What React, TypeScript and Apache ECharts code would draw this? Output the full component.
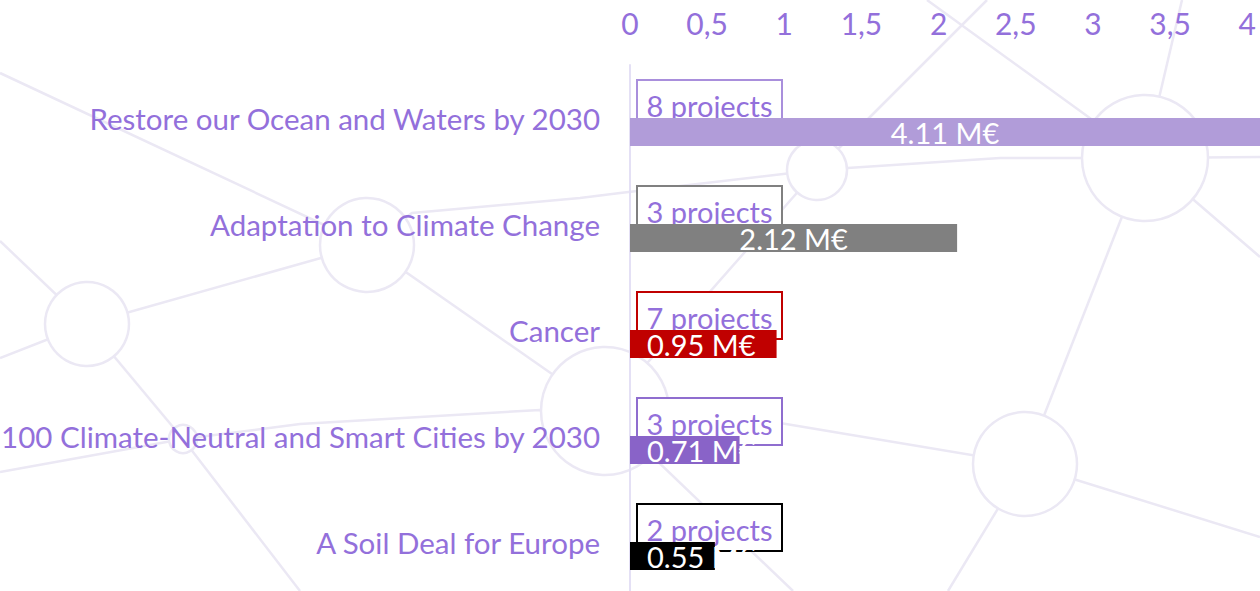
import React, { useEffect, useRef } from "react";
import * as echarts from "echarts";

// ---- Data ----
const categories = [
  "Restore our Ocean and Waters by 2030",
  "Adaptation to Climate Change",
  "Cancer",
  "100 Climate-Neutral and Smart Cities by 2030",
  "A Soil Deal for Europe",
];
const fundingMEur = [4.11, 2.12, 0.95, 0.71, 0.55];
const projectCounts = [8, 3, 7, 3, 2];
const barColors = ["#b19cd9", "#808080", "#c00000", "#8963c8", "#000000"];
const boxColors = ["#a98fdc", "#808080", "#c00000", "#8f6dcf", "#000000"];

// ---- Decorative background network ----
const BG_STROKE = "#ebe8f4";
const bgCircles: [number, number, number][] = [
  [87, 324, 42],
  [367, 245, 47],
  [183, 439, 14],
  [605, 411, 64],
  [817, 170, 30],
  [1145, 158, 63],
  [1025, 464, 52],
];
const bgLines: number[][][] = [
  [[0, 73], [367, 245]],
  [[0, 241], [87, 324]],
  [[87, 324], [367, 245]],
  [[367, 245], [412, 213], [580, 198], [620, 193], [817, 170]],
  [[367, 245], [605, 411]],
  [[0, 358], [87, 324]],
  [[87, 324], [183, 439]],
  [[183, 439], [0, 472]],
  [[183, 439], [300, 424], [540, 410], [605, 411]],
  [[183, 439], [300, 591]],
  [[817, 170], [987, 0]],
  [[927, 0], [1145, 158]],
  [[817, 170], [1000, 158], [1145, 158]],
  [[1145, 158], [1182, 0]],
  [[1145, 158], [1260, 157]],
  [[1145, 158], [1260, 257]],
  [[1145, 158], [1025, 464]],
  [[1025, 464], [948, 591]],
  [[1025, 464], [1260, 537]],
  [[605, 411], [780, 423], [1025, 464]],
  [[605, 411], [793, 591]],
  [[817, 170], [605, 411]],
];

const PURPLE = "#9370db";
const FONT = "Lato";

export default function App() {
  const ref = useRef<HTMLDivElement>(null);
  useEffect(() => {
    if (!ref.current) return;
    const chart = echarts.init(ref.current, null, { renderer: "svg" });

    const graphic: any[] = [];
    bgLines.forEach((pts) => {
      graphic.push({
        type: "polyline",
        z: -10,
        silent: true,
        shape: { points: pts },
        style: { stroke: BG_STROKE, lineWidth: 2.5, fill: null },
      });
    });
    bgCircles.forEach(([cx, cy, r]) => {
      graphic.push({
        type: "circle",
        z: -9,
        silent: true,
        shape: { cx, cy, r },
        style: { stroke: BG_STROKE, lineWidth: 2.5, fill: "#ffffff" },
      });
    });

    const option: any = {
      animation: false,
      backgroundColor: "#ffffff",
      graphic,
      grid: {
        left: 630,
        top: 65,
        width: 630,
        height: 530,
        containLabel: false,
        outerBoundsMode: "none",
      },
      xAxis: {
        type: "value",
        position: "top",
        min: 0,
        max: 4.083,
        interval: 0.5,
        axisLine: { show: false },
        axisTick: { show: false },
        splitLine: { show: false },
        axisLabel: {
          color: PURPLE,
          fontFamily: FONT,
          fontSize: 30,
          margin: 27,
          showMaxLabel: false,
          formatter: (v: number) =>
            v > 4 || Math.abs(v * 2 - Math.round(v * 2)) > 1e-6
              ? ""
              : String(v).replace(".", ","),
        },
      },
      yAxis: {
        type: "category",
        inverse: true,
        data: categories,
        axisLine: { show: true, lineStyle: { color: "#e4e0f5", width: 2 } },
        axisTick: { show: false },
        axisLabel: {
          color: PURPLE,
          fontFamily: FONT,
          fontSize: 29.5,
          margin: 30,
          padding: [0, 0, 3, 0],
        },
      },
      series: [
        {
          type: "custom",
          z: 1,
          silent: true,
          data: projectCounts.map((n, i) => [0, i, n]),
          encode: { x: 0, y: 1 },
          renderItem: (params: any, api: any) => {
            const idx = api.value(1);
            const n = api.value(2);
            const [x0, yc] = api.coord([0, idx]);
            const bx = x0 + 7;
            const bw = 145;
            return {
              type: "group",
              children: [
                {
                  type: "rect",
                  shape: { x: bx, y: yc - 38, width: bw, height: 47 },
                  style: { fill: "#ffffff", stroke: boxColors[idx], lineWidth: 2 },
                },
                {
                  type: "text",
                  style: {
                    text: n + " projects",
                    x: bx + bw / 2,
                    y: yc - 13,
                    align: "center",
                    verticalAlign: "middle",
                    fill: PURPLE,
                    font: `29px ${FONT}`,
                  },
                },
              ],
            };
          },
        },
        {
          type: "bar",
          name: "ghost",
          z: 2,
          silent: true,
          barWidth: 28,
          barGap: "0%",
          data: fundingMEur.map(() => 0),
          itemStyle: { color: "transparent" },
        },
        {
          type: "bar",
          name: "funding",
          z: 3,
          barWidth: 28,
          barGap: "0%",
          clip: true,
          data: fundingMEur.map((v, i) => ({
            value: v,
            itemStyle: { color: barColors[i] },
            label: {
              position: v >= 2 ? "inside" : "insideLeft",
              distance: v >= 2 ? 5 : 17,
            },
          })),
          label: {
            show: true,
            color: "#ffffff",
            fontFamily: FONT,
            fontSize: 29,
            formatter: (p: any) => p.value.toFixed(2) + " M€",
          },
        },
      ],
    };
    chart.setOption(option);
    return () => chart.dispose();
  }, []);
  return (
    <div
      ref={ref}
      style={{ position: "absolute", left: 0, top: 0, width: 1260, height: 591 }}
    />
  );
}
